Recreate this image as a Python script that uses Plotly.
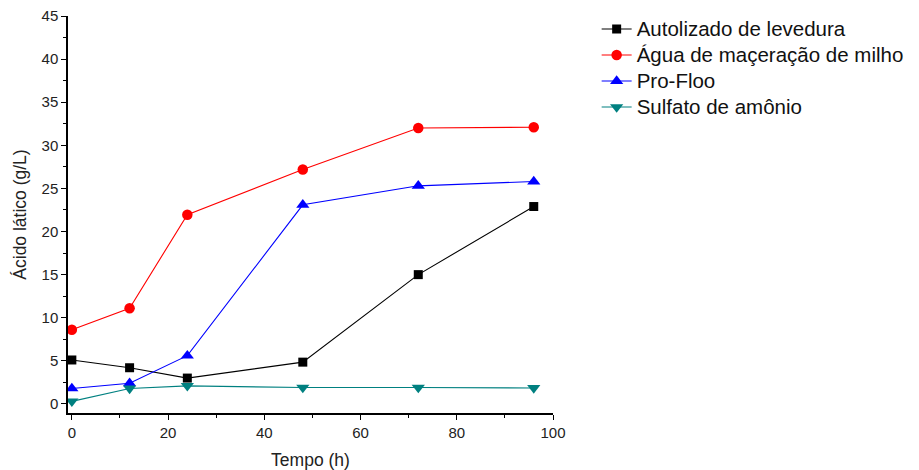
import plotly.graph_objects as go

tempo = [0, 12, 24, 48, 72, 96]
autolizado = [5.1, 4.2, 3.0, 4.85, 15.0, 22.9]
agua = [8.6, 11.1, 21.95, 27.2, 32.0, 32.1]
profloo = [1.8, 2.4, 5.6, 23.1, 25.3, 25.8]
sulfato = [0.3, 1.8, 2.1, 1.9, 1.9, 1.85]

series = [
    ("Autolizado de levedura", autolizado, "black", "square", 9),
    ("Água de maçeração de milho", agua, "#ff0000", "circle", 10.5),
    ("Pro-Floo", profloo, "#0000ff", "triangle-up", 11.5),
    ("Sulfato de amônio", sulfato, "#008080", "triangle-down", 11.5),
]

fig = go.Figure()
for name, vals, color, sym, size in series:
    fig.add_trace(go.Scatter(
        x=tempo, y=vals, name='<span style="font-size:20.5px">' + name + '</span>',
        mode="lines+markers",
        line=dict(color=color, width=1.1),
        marker=dict(symbol=sym, size=size, color=color),
    ))

axis_common = dict(
    showline=True, linecolor="black", linewidth=1.5,
    ticks="outside", ticklen=5, tickwidth=1.2, tickcolor="black",
    showgrid=False, zeroline=False, mirror=False, automargin=False,
    tickfont=dict(family="Liberation Sans, Arial", size=15, color="#222"),
)

fig.update_xaxes(
    range=[-0.8, 100], tick0=0, dtick=20,
    minor=dict(ticks="outside", ticklen=3, tickwidth=1.2, tickcolor="black", dtick=10, showgrid=False),
    title=dict(text="Tempo (h)", font=dict(family="Liberation Sans, Arial", size=17.5, color="#222"), standoff=14),
    **axis_common,
)
fig.update_yaxes(
    range=[-1.05, 45], tick0=0, dtick=5,
    minor=dict(ticks="outside", ticklen=3, tickwidth=1.2, tickcolor="black", dtick=2.5, showgrid=False),
    title=dict(text="Ácido lático (g/L)", font=dict(family="Liberation Sans, Arial", size=17.5, color="#222"), standoff=10),
    **axis_common,
)

fig.update_layout(
    width=919, height=470,
    margin=dict(l=68, r=366, t=16, b=57, autoexpand=False),
    plot_bgcolor="white", paper_bgcolor="white",
    legend=dict(
        x=1.09, y=1.0126, xanchor="left", yanchor="top",
        font=dict(family="Liberation Sans, Arial", size=17.7, color="#111"),
        bgcolor="rgba(0,0,0,0)", tracegroupgap=0,
    ),
)

fig.write_html("out.html")
